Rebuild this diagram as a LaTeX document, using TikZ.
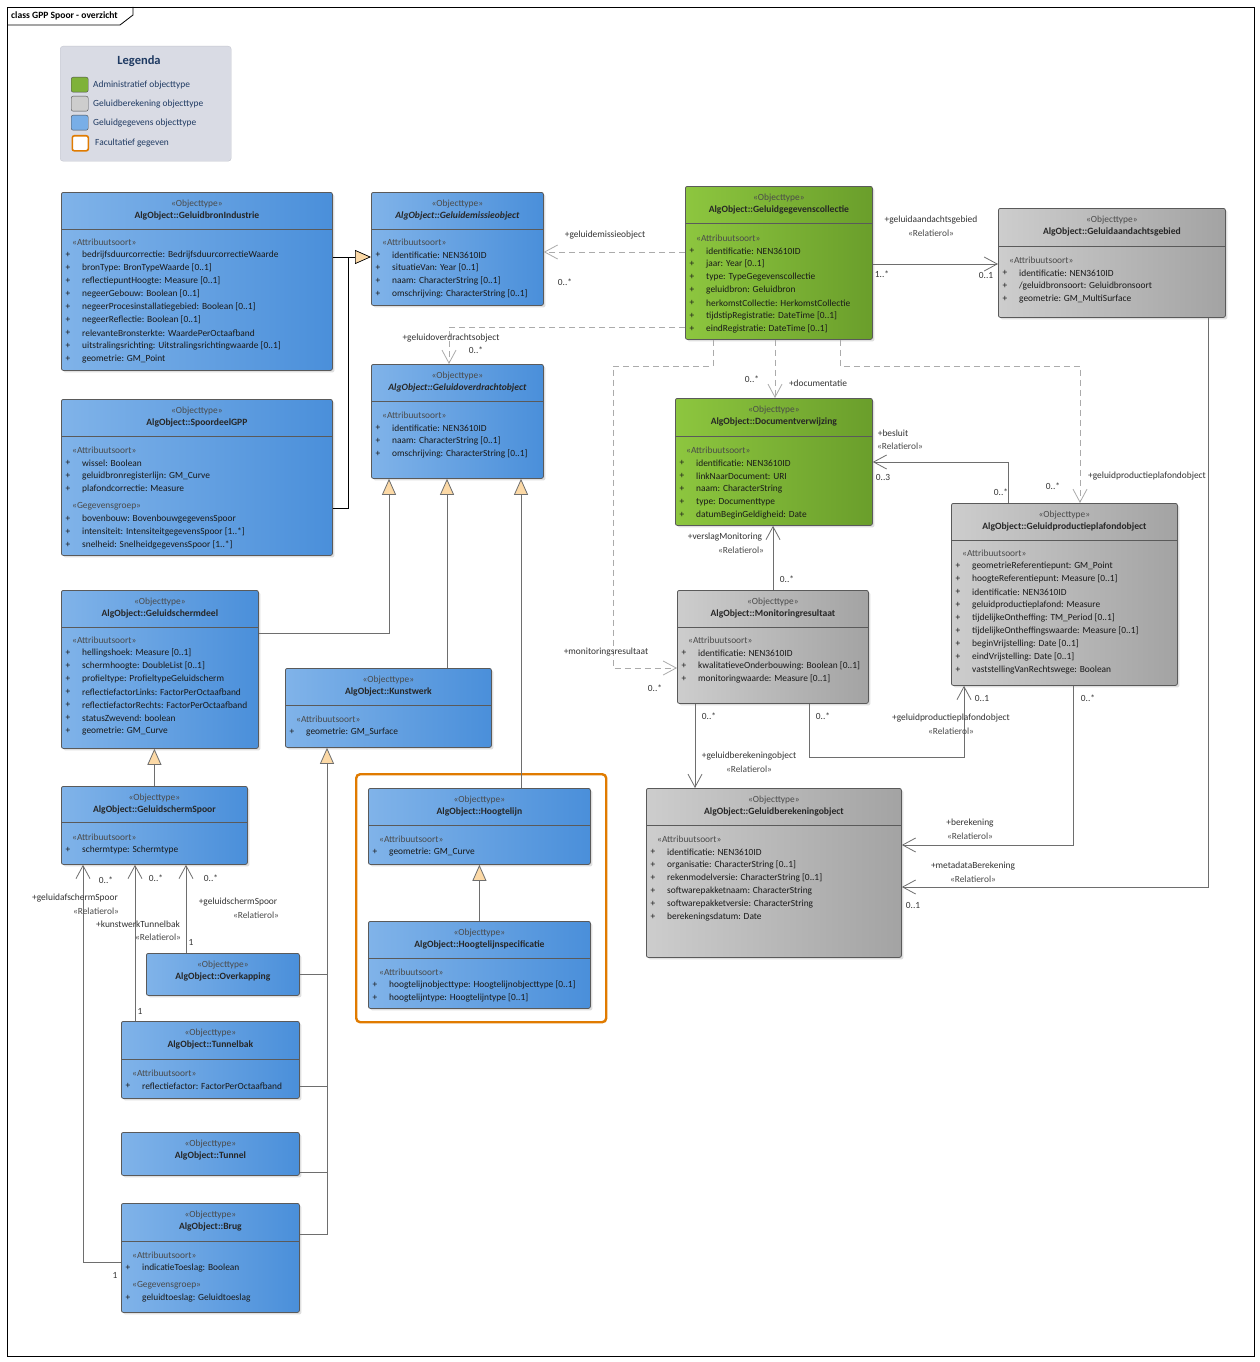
\documentclass[tikz,border=0pt]{standalone}
\usepackage{fontspec}
\setmainfont{Carlito}
\usetikzlibrary{arrows.meta,shadows}
\definecolor{blueL}{HTML}{80B3E9}
\definecolor{blueR}{HTML}{4A8FDA}
\definecolor{greenL}{HTML}{8DC63F}
\definecolor{greenR}{HTML}{6A9E2B}
\definecolor{grayL}{HTML}{CDCDCD}
\definecolor{grayR}{HTML}{A3A3A3}
\definecolor{boxline}{HTML}{5A5A5A}
\definecolor{conn}{HTML}{6E6E6E}
\definecolor{depc}{HTML}{ABABAB}
\definecolor{tri}{HTML}{FCD9A6}
\definecolor{orng}{HTML}{E07B00}
\definecolor{legfill}{HTML}{D9DBE4}
\definecolor{legline}{HTML}{C3C5CF}
\definecolor{legtxt}{HTML}{1F3A62}
\definecolor{stc}{HTML}{4A4A4A}
\definecolor{labc}{HTML}{333333}
\tikzset{
 umlbox/.style={rectangle, draw=boxline, line width=0.8pt, rounded corners=2pt, inner sep=0pt, anchor=north west,
   drop shadow={shadow xshift=2pt, shadow yshift=-2pt, opacity=0.25}},
 bluebox/.style={umlbox, left color=blueL, right color=blueR},
 greenbox/.style={umlbox, left color=greenL, right color=greenR},
 graybox/.style={umlbox, left color=grayL, right color=grayR},
 stereo/.style={inner sep=0pt, text=stc},
 cname/.style={inner sep=0pt, text=black!85, font=\fontsize{9.6}{11}\selectfont\bfseries},
 hdr/.style={inner sep=0pt, anchor=west, text=stc},
 attr/.style={inner sep=0pt, anchor=west, text=black!90},
 plus/.style={inner sep=0pt, text=black!90},
 sepl/.style={draw=boxline, line width=0.8pt},
 lbl/.style={inner sep=0pt, text=labc},
 rlbl/.style={inner sep=0pt, text=stc},
 conn/.style={draw=conn, line width=0.8pt},
 assoc/.style={conn, -{Straight Barb[length=13pt,width=14pt,line width=0.8pt]}},
 dep/.style={draw=depc, line width=0.8pt, dash pattern=on 6pt off 4pt, -{Straight Barb[length=13pt,width=14pt,line width=0.8pt]}},
 gen/.style={conn, -{Triangle[length=16pt,width=14pt,fill=tri]}},
 genB/.style={draw=black, line width=1pt, -{Triangle[length=16pt,width=14pt,fill=tri,line width=0.7pt]}},
}
\newcommand\umlclass[7]{%
 \node[#2, minimum width=#5pt, minimum height=#6pt] (#1) at (#3,#4) {};
 \node[stereo] (#1-st) at ([yshift=-12pt]#1.north) {«Objecttype»};
 \node[cname] (#1-nm) at ([yshift=-24pt]#1.north) {#7};
}
\newcommand\sepat[2]{\draw[sepl] (#1.west |- 0,#2) -- (#1.east |- 0,#2);}
\newcommand\attrs[5]{%
 \node[hdr] (#1-h) at (#2+11,#3) {#4};
 \foreach \atx [count=\i] in {#5} {
   \node[plus] (#1-p\i) at (#2+7,#3+13*\i) {+};
   \node[attr] (#1-a\i) at (#2+21,#3+13*\i) {\atx};
 }
}
\begin{document}
\begin{tikzpicture}[x=1pt,y=-1pt, font=\fontsize{9.4}{11}\selectfont]
\useasboundingbox (0,0) rectangle (1260,1362);
\fill[white] (0,0) rectangle (1260,1362);
% frame
\node[draw=black, line width=0.8pt, minimum width=1247pt, minimum height=1349pt, anchor=north west, inner sep=0pt] (frame) at (7,7) {};
\draw[black, line width=0.8pt] (frame.west |- 0,25) -- (120,25) -- (133,15) -- (133,7);
\node[inner sep=0pt, anchor=west, font=\fontsize{9.6}{10}\selectfont\bfseries] (title) at (11,16) {class GPP Spoor - overzicht};

% legend
\node[draw=legline, fill=legfill, rounded corners=3pt, minimum width=171pt, minimum height=115pt, anchor=north west, inner sep=0pt] (leg) at (60,46) {};
\node[inner sep=0pt, text=legtxt, font=\fontsize{12.5}{14}\selectfont\bfseries] (legt) at (139,61) {Legenda};
\node[draw=black!70, fill=greenL!90!black, rounded corners=2pt, minimum width=17pt, minimum height=15pt, anchor=north west, inner sep=0pt] (lg1) at (71,77) {};
\node[draw=black!70, fill=grayL, rounded corners=2pt, minimum width=17pt, minimum height=15pt, anchor=north west, inner sep=0pt] (lg2) at (71,96) {};
\node[draw=black!70, fill=blueL!85!blueR, rounded corners=2pt, minimum width=17pt, minimum height=15pt, anchor=north west, inner sep=0pt] (lg3) at (71,115) {};
\node[draw=orng, line width=1.6pt, fill=white, rounded corners=2pt, minimum width=16pt, minimum height=15pt, anchor=north west, inner sep=0pt] (lg4) at (71.5,135) {};
\node[inner sep=0pt, anchor=west, text=legtxt] (lgt1) at (93,85) {Administratief objecttype};
\node[inner sep=0pt, anchor=west, text=legtxt] (lgt2) at (93,104) {Geluidberekening objecttype};
\node[inner sep=0pt, anchor=west, text=legtxt] (lgt3) at (93,123) {Geluidgegevens objecttype};
\node[inner sep=0pt, anchor=west, text=legtxt] (lgt4) at (95,143) {Facultatief gegeven};

% optional frame
\node[draw=orng, line width=2.4pt, rounded corners=4pt, minimum width=250pt, minimum height=248pt, anchor=north west, inner sep=0pt] (opt) at (355,773) {};

% classes
\umlclass{gbi}{bluebox}{61}{192}{271}{178}{AlgObject::GeluidbronIndustrie}
\sepat{gbi}{229}
\attrs{gbi}{61}{242}{«Attribuutsoort»}{{bedrijfsduurcorrectie: BedrijfsduurcorrectieWaarde},{bronType: BronTypeWaarde [0..1]},{reflectiepuntHoogte: Measure [0..1]},{negeerGebouw: Boolean [0..1]},{negeerProcesinstallatiegebied: Boolean [0..1]},{negeerReflectie: Boolean [0..1]},{relevanteBronsterkte: WaardePerOctaafband},{uitstralingsrichting: Uitstralingsrichtingwaarde [0..1]},{geometrie: GM\_Point}}

\umlclass{ges}{bluebox}{371}{192}{172}{113}{\itshape AlgObject::Geluidemissieobject}
\sepat{ges}{229}
\attrs{ges}{371}{242}{«Attribuutsoort»}{{identificatie: NEN3610ID},{situatieVan: Year [0..1]},{naam: CharacterString [0..1]},{omschrijving: CharacterString [0..1]}}

\umlclass{god}{bluebox}{371}{364}{172}{114}{\itshape AlgObject::Geluidoverdrachtobject}
\sepat{god}{401}
\attrs{god}{371}{415}{«Attribuutsoort»}{{identificatie: NEN3610ID},{naam: CharacterString [0..1]},{omschrijving: CharacterString [0..1]}}

\umlclass{ggc}{greenbox}{685}{186}{187}{153}{AlgObject::Geluidgegevenscollectie}
\sepat{ggc}{223}
\attrs{ggc}{685}{238}{«Attribuutsoort»}{{identificatie: NEN3610ID},{jaar: Year [0..1]},{type: TypeGegevenscollectie},{geluidbron: Geluidbron},{herkomstCollectie: HerkomstCollectie},{tijdstipRegistratie: DateTime [0..1]},{eindRegistratie: DateTime [0..1]}}

\umlclass{gag}{graybox}{998}{208}{227}{109}{AlgObject::Geluidaandachtsgebied}
\sepat{gag}{246}
\attrs{gag}{998}{260}{«Attribuutsoort»}{{identificatie: NEN3610ID},{/geluidbronsoort: Geluidbronsoort},{geometrie: GM\_MultiSurface}}

\umlclass{doc}{greenbox}{675}{398}{197}{127}{AlgObject::Documentverwijzing}
\sepat{doc}{436}
\attrs{doc}{675}{450}{«Attribuutsoort»}{{identificatie: NEN3610ID},{linkNaarDocument: URI},{naam: CharacterString},{type: Documenttype},{datumBeginGeldigheid: Date}}

\umlclass{gpp}{graybox}{951}{503}{226}{182}{AlgObject::Geluidproductieplafondobject}
\sepat{gpp}{540}
\attrs{gpp}{951}{553}{«Attribuutsoort»}{{geometrieReferentiepunt: GM\_Point},{hoogteReferentiepunt: Measure [0..1]},{identificatie: NEN3610ID},{geluidproductieplafond: Measure},{tijdelijkeOntheffing: TM\_Period [0..1]},{tijdelijkeOntheffingswaarde: Measure [0..1]},{beginVrijstelling: Date [0..1]},{eindVrijstelling: Date [0..1]},{vaststellingVanRechtswege: Boolean}}

\umlclass{mon}{graybox}{677}{590}{191}{113}{AlgObject::Monitoringresultaat}
\sepat{mon}{627}
\attrs{mon}{677}{640}{«Attribuutsoort»}{{identificatie: NEN3610ID},{kwalitatieveOnderbouwing: Boolean [0..1]},{monitoringwaarde: Measure [0..1]}}

\umlclass{ber}{graybox}{646}{788}{255}{169}{AlgObject::Geluidberekeningobject}
\sepat{ber}{825}
\attrs{ber}{646}{839}{«Attribuutsoort»}{{identificatie: NEN3610ID},{organisatie: CharacterString [0..1]},{rekenmodelversie: CharacterString [0..1]},{softwarepakketnaam: CharacterString},{softwarepakketversie: CharacterString},{berekeningsdatum: Date}}

\umlclass{sp}{bluebox}{61}{399}{271}{156}{AlgObject::SpoordeelGPP}
\sepat{sp}{436}
\attrs{sp}{61}{450}{«Attribuutsoort»}{{wissel: Boolean},{geluidbronregisterlijn: GM\_Curve},{plafondcorrectie: Measure}}
\attrs{spg}{61}{506}{«Gegevensgroep»}{{bovenbouw: BovenbouwgegevensSpoor},{intensiteit: IntensiteitgegevensSpoor [1..*]},{snelheid: SnelheidgegevensSpoor [1..*]}}

\umlclass{gsd}{bluebox}{61}{590}{197}{158}{AlgObject::Geluidschermdeel}
\sepat{gsd}{627}
\attrs{gsd}{61}{640}{«Attribuutsoort»}{{hellingshoek: Measure [0..1]},{schermhoogte: DoubleList [0..1]},{profieltype: ProfieltypeGeluidscherm},{reflectiefactorLinks: FactorPerOctaafband},{reflectiefactorRechts: FactorPerOctaafband},{statusZwevend: boolean},{geometrie: GM\_Curve}}

\umlclass{kw}{bluebox}{285}{668}{206}{79}{AlgObject::Kunstwerk}
\sepat{kw}{705}
\attrs{kw}{285}{719}{«Attribuutsoort»}{{geometrie: GM\_Surface}}

\umlclass{hl}{bluebox}{368}{788}{222}{76}{AlgObject::Hoogtelijn}
\sepat{hl}{825}
\attrs{hl}{368}{839}{«Attribuutsoort»}{{geometrie: GM\_Curve}}

\umlclass{hls}{bluebox}{368}{921}{222}{87}{AlgObject::Hoogtelijnspecificatie}
\sepat{hls}{958}
\attrs{hls}{368}{972}{«Attribuutsoort»}{{hoogtelijnobjecttype: Hoogtelijnobjecttype [0..1]},{hoogtelijntype: Hoogtelijntype [0..1]}}

\umlclass{gss}{bluebox}{61}{786}{186}{78}{AlgObject::GeluidschermSpoor}
\sepat{gss}{822}
\attrs{gss}{61}{837}{«Attribuutsoort»}{{schermtype: Schermtype}}

\umlclass{ovk}{bluebox}{146}{953}{153}{42}{AlgObject::Overkapping}

\umlclass{tb}{bluebox}{121}{1021}{178}{77}{AlgObject::Tunnelbak}
\sepat{tb}{1059}
\attrs{tb}{121}{1073}{«Attribuutsoort»}{{reflectiefactor: FactorPerOctaafband}}

\umlclass{tun}{bluebox}{121}{1132}{178}{43}{AlgObject::Tunnel}

\umlclass{brug}{bluebox}{121}{1203}{178}{109}{AlgObject::Brug}
\sepat{brug}{1241}
\attrs{brug}{121}{1255}{«Attribuutsoort»}{{indicatieToeslag: Boolean}}
\attrs{brugg}{121}{1285}{«Gegevensgroep»}{{geluidtoeslag: Geluidtoeslag}}

% generalizations
\draw[genB] (gbi.east |- 0,257) -- (ges.west |- 0,257);
\draw[black, line width=1pt] (sp.east |- 0,508) -| (348,257);
\draw[gen] (gsd.east |- 0,633) -| (god.south -| 389,0);
\draw[gen] (kw.north -| 447,0) -- (god.south -| 447,0);
\draw[gen] (hl.north -| 521,0) -- (god.south -| 521,0);
\draw[gen] (gss.north) -- (gss.north |- gsd.south);
\draw[gen] (hls.north) -- (hl.south);
\draw[gen] (brug.east |- 0,1234) -| (kw.south -| 327,0);
\draw[conn] (ovk.east) -- (ovk.east -| 327,0);
\draw[conn] (tb.east |- 0,1086) -- (327,1086);
\draw[conn] (tun.east |- 0,1172) -- (327,1172);

% associations
\draw[assoc] (ggc.east |- 0,264) -- (gag.west |- 0,264);
\draw[assoc] (gpp.north -| 1008,0) |- (doc.east |- 0,462);
\draw[assoc] (mon.north -| 773,0) -- (doc.south -| 773,0);
\draw[assoc] (mon.south -| 695,0) -- (ber.north -| 695,0);
\draw[assoc] (mon.south -| 809,0) |- (964,757) -- (gpp.south -| 964,0);
\draw[assoc] (gpp.south -| 1073,0) |- (ber.east |- 0,845);
\draw[assoc] (gag.south -| 1208,0) |- (ber.east |- 0,887);
\draw[assoc] (brug.west |- 0,1262) -| (gss.south -| 83,0);
\draw[assoc] (tb.north -| 135,0) -- (gss.south -| 135,0);
\draw[assoc] (ovk.north -| 186,0) -- (gss.south -| 186,0);

% dependencies
\draw[dep] (ggc.west |- 0,252) -- (ges.east |- 0,252);
\draw[dep] (ggc.west |- 0,327) -| (god.north -| 449,0);
\draw[dep] (ggc.south -| 713,0) |- (613,366) |- (mon.west |- 0,668);
\draw[dep] (ggc.south -| 775,0) -- (doc.north -| 775,0);
\draw[dep] (ggc.south -| 840,0) |- (1080,366) -- (gpp.north -| 1080,0);

% labels
\node[lbl] (l1) at (605,235) {+geluidemissieobject};
\node[lbl] (l2) at (565,282) {0..*};
\node[lbl] (l3) at (931,220) {+geluidaandachtsgebied};
\node[rlbl] (l4) at (931,233) {«Relatierol»};
\node[lbl] (l5) at (882,274) {1..*};
\node[lbl] (l6) at (986,275) {0..1};
\node[lbl] (l7) at (451,338) {+geluidoverdrachtsobject};
\node[lbl] (l8) at (476,350) {0..*};
\node[lbl] (l9) at (752,379) {0..*};
\node[lbl] (l10) at (818,383) {+documentatie};
\node[lbl] (l11) at (893,433) {+besluit};
\node[rlbl] (l12) at (900,446) {«Relatierol»};
\node[lbl] (l13) at (883,477) {0..3};
\node[lbl] (l14) at (1147,476) {+geluidproductieplafondobject};
\node[lbl] (l15) at (1053,486) {0..*};
\node[lbl] (l16) at (1001,492) {0..*};
\node[lbl] (l17) at (725,537) {+verslagMonitoring};
\node[rlbl] (l18) at (741,550) {«Relatierol»};
\node[lbl] (l19) at (787,579) {0..*};
\node[lbl] (l20) at (606,652) {+monitoringsresultaat};
\node[lbl] (l21) at (655,688) {0..*};
\node[lbl] (l22) at (709,716) {0..*};
\node[lbl] (l23) at (823,716) {0..*};
\node[lbl] (l24) at (982,698) {0..1};
\node[lbl] (l25) at (1088,698) {0..*};
\node[lbl] (l26) at (951,718) {+geluidproductieplafondobject};
\node[rlbl] (l27) at (951,731) {«Relatierol»};
\node[lbl] (l28) at (749,756) {+geluidberekeningobject};
\node[rlbl] (l29) at (749,769) {«Relatierol»};
\node[lbl] (l30) at (970,823) {+berekening};
\node[rlbl] (l31) at (970,836) {«Relatierol»};
\node[lbl] (l32) at (973,866) {+metadataBerekening};
\node[rlbl] (l33) at (973,879) {«Relatierol»};
\node[lbl] (l34) at (913,905) {0..1};
\node[lbl] (l35) at (106,880) {0..*};
\node[lbl] (l36) at (156,878) {0..*};
\node[lbl] (l37) at (211,878) {0..*};
\node[lbl] (l38) at (75,898) {+geluidafschermSpoor};
\node[rlbl] (l39) at (96,911) {«Relatierol»};
\node[lbl] (l40) at (138,924) {+kunstwerkTunnelbak};
\node[rlbl] (l41) at (158,937) {«Relatierol»};
\node[lbl] (l42) at (238,902) {+geluidschermSpoor};
\node[rlbl] (l43) at (256,915) {«Relatierol»};
\node[lbl] (l44) at (191,942) {1};
\node[lbl] (l45) at (140,1011) {1};
\node[lbl] (l46) at (115,1275) {1};
\end{tikzpicture}
\end{document}
